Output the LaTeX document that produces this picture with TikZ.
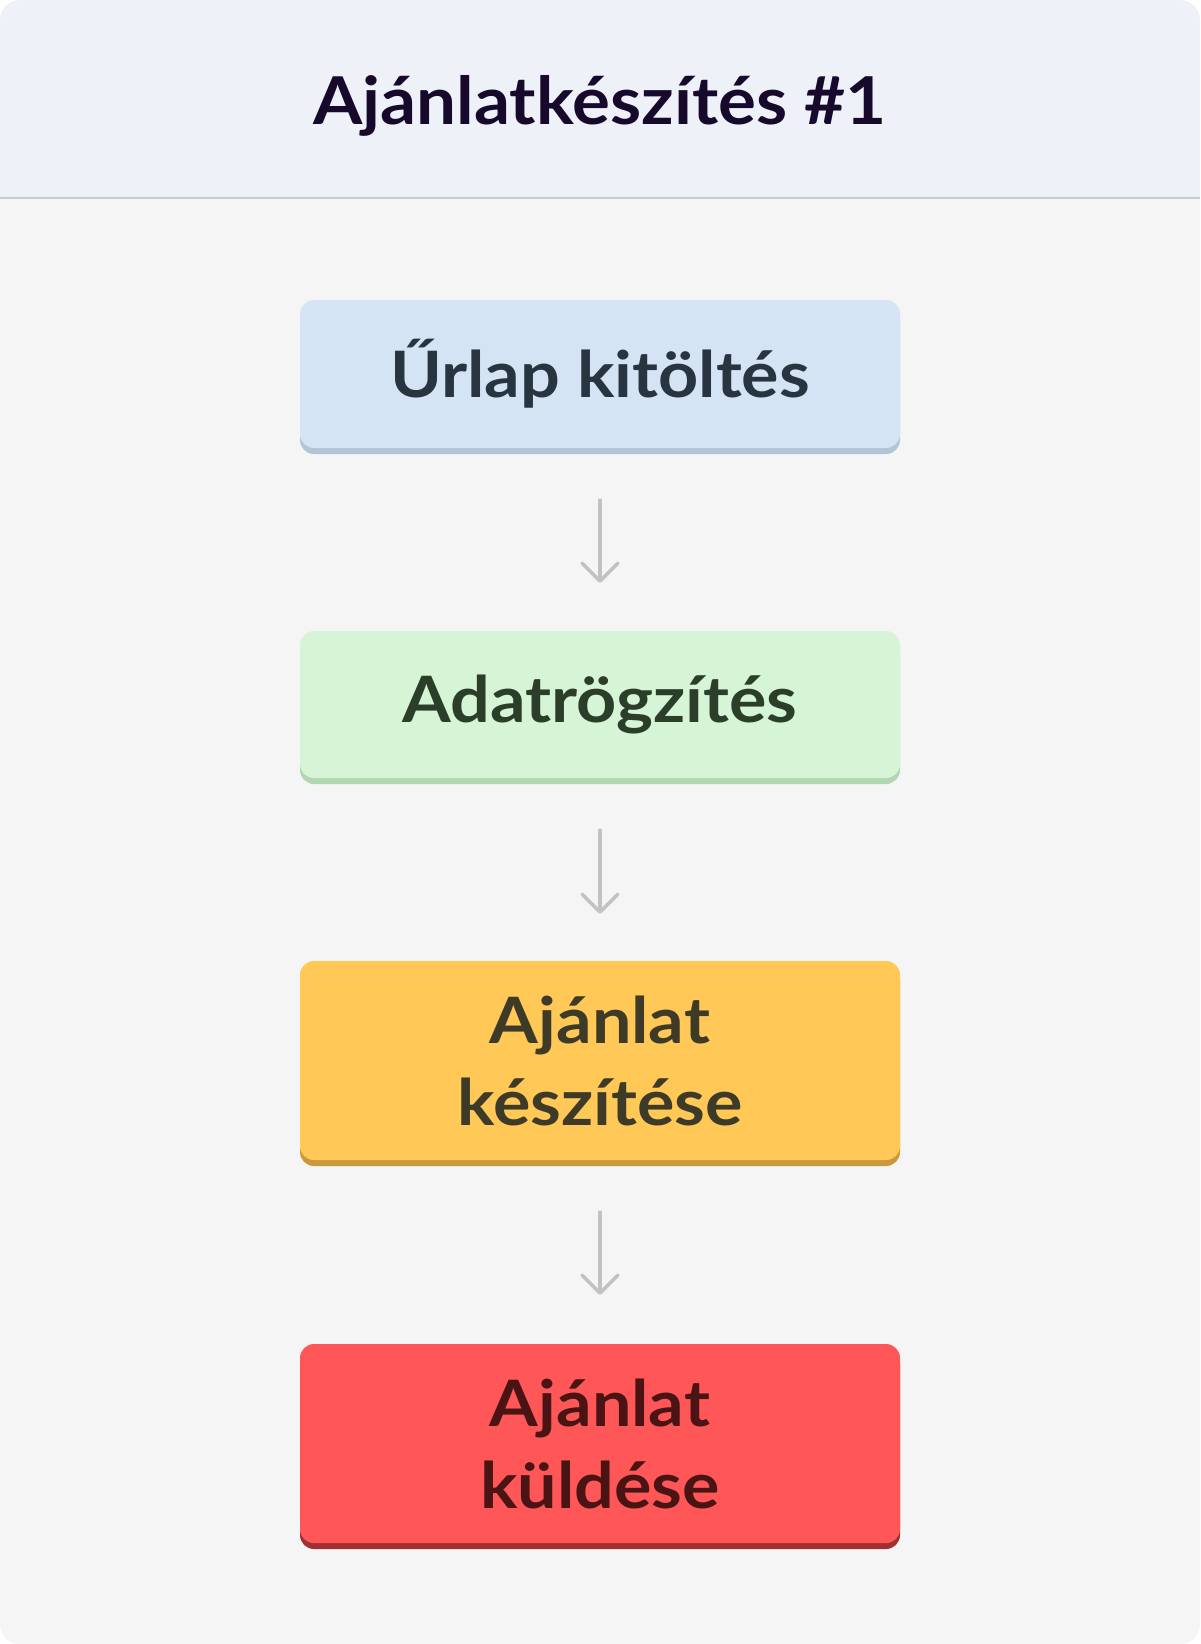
\documentclass[tikz,border=0pt]{standalone}
\usepackage{fontspec}
\setmainfont{Lato}
\newfontfamily\titlefont[FakeStretch=1.075]{Lato}
\newfontfamily\boxfont[FakeStretch=1.095]{Lato}
\usetikzlibrary{arrows.meta,shadows}
\definecolor{pagebg}{HTML}{F5F5F5}
\definecolor{headbg}{HTML}{EEF1F8}
\definecolor{headline}{HTML}{C6CBD2}
\definecolor{titlecol}{HTML}{16092B}
\definecolor{arrowcol}{HTML}{C2C2C2}
\definecolor{bluef}{HTML}{D4E4F4}\definecolor{blues}{HTML}{B3C4D6}\definecolor{bluet}{HTML}{283440}
\definecolor{greenf}{HTML}{D6F5D6}\definecolor{greens}{HTML}{B1D6B1}\definecolor{greent}{HTML}{2A3E2A}
\definecolor{yellf}{HTML}{FFC857}\definecolor{yells}{HTML}{C89A3C}\definecolor{yellt}{HTML}{3D3A28}
\definecolor{redf}{HTML}{FF5757}\definecolor{reds}{HTML}{A33030}\definecolor{redt}{HTML}{4A1414}
\tikzset{
  stepbox/.style={rounded corners=14pt, minimum width=600pt, align=center,
    font=\boxfont\fontsize{64}{82}\selectfont\bfseries, inner sep=0pt},
  shad/.style={general shadow={fill=#1, shadow yshift=-6pt}},
  arr/.style={draw=arrowcol, line width=3.5pt, line cap=round,
    -{Straight Barb[length=18pt, width=36pt, line cap=round, line join=round]}},
}
\begin{document}
\begin{tikzpicture}[x=1pt,y=-1pt]
\useasboundingbox (0,0) rectangle (1200,1644);
\fill[white] (0,0) rectangle (1200,1644);
\fill[pagebg, rounded corners=20pt] (0,0) rectangle (1200,1644);
\begin{scope}
\clip[rounded corners=20pt] (0,0) rectangle (1200,1644);
\fill[headbg] (0,0) rectangle (1200,197);
\end{scope}
\draw[headline, line width=2pt] (0,197.5) -- (1200,197.5);
\node[font=\titlefont\fontsize{66}{70}\selectfont\bfseries, text=titlecol] (title) at (600,106) {Ajánlatkészítés \#1};
\node[stepbox, shad=blues, fill=bluef, text=bluet, minimum height=148pt] (b1) at (600,374) {Űrlap kitöltés};
\node[stepbox, shad=greens, fill=greenf, text=greent, minimum height=147pt] (b2) at (600,704.5) {\raisebox{-5pt}{Adatrögzítés}};
\node[stepbox, shad=yells, fill=yellf, text=yellt, minimum height=199pt] (b3) at (600,1060.5) {Ajánlat\\készítése};
\node[stepbox, shad=reds, fill=redf, text=redt, minimum height=199pt] (b4) at (600,1443.5) {Ajánlat\\küldése};
\draw[arr, shorten <=52pt, shorten >=48pt] (b1.south) -- (b2.north);
\draw[arr, shorten <=52pt, shorten >=47pt] (b2.south) -- (b3.north);
\draw[arr, shorten <=52pt, shorten >=49pt] (b3.south) -- (b4.north);
\end{tikzpicture}
\end{document}
